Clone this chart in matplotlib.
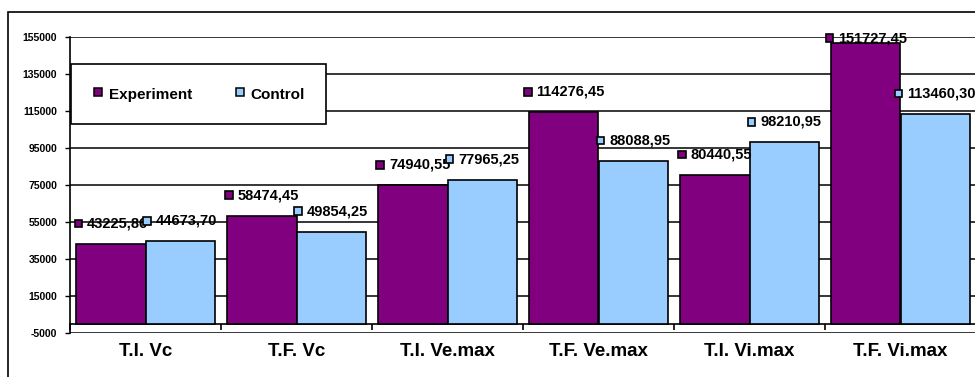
import matplotlib
matplotlib.use("Agg")
import matplotlib.pyplot as plt
import numpy as np
from matplotlib.lines import Line2D
from matplotlib.patches import Rectangle
from matplotlib.offsetbox import AnnotationBbox, HPacker, DrawingArea, TextArea
from matplotlib.ticker import FixedLocator

plt.rcParams['font.family'] = ['Liberation Sans', 'DejaVu Sans']
plt.rcParams['font.weight'] = 'bold'
plt.rcParams['axes.unicode_minus'] = False

categories = ['T.I. Vc', 'T.F. Vc', 'T.I. Ve.max', 'T.F. Ve.max', 'T.I. Vi.max', 'T.F. Vi.max']
experiment = [43225.86, 58474.45, 74940.55, 114276.45, 80440.55, 151727.45]
control = [44673.70, 49854.25, 77965.25, 88088.95, 98210.95, 113460.30]
series_names = ['Experiment', 'Control']
colors = ['#800080', '#99CCFF']

fig = plt.figure(figsize=(9.75, 3.77), dpi=100)
# chart frame (runs off the right and bottom edges)
fig.patches.append(Rectangle((8 / 975, -0.1), 1.1, 1 - 12 / 377 + 0.1, transform=fig.transFigure,
                             fill=False, edgecolor='black', linewidth=1.2))

ax = fig.add_axes([70 / 975, 44 / 377, 906 / 975, 296 / 377])
ax.set_xlim(-0.5, len(categories) - 0.5)
ax.set_ylim(-5000, 155000)

x = np.arange(len(categories))
w = 0.457
ax.bar(x - w / 2, experiment, w, color=colors[0], edgecolor='black', linewidth=1.2, zorder=3)
ax.bar(x + w / 2, control, w, color=colors[1], edgecolor='black', linewidth=1.2, zorder=3)

# y axis
ax.yaxis.set_major_locator(FixedLocator(np.arange(-5000, 155001, 20000)))
ax.yaxis.grid(True, color='black', linewidth=1.1, zorder=0)
ax.set_axisbelow(True)
ax.tick_params(axis='y', direction='out', length=3.6, width=1, pad=5.5, labelsize=7.5)
for t in ax.get_yticklabels():
    t.set_fontweight('bold')

# x axis sits at zero, with category ticks on group boundaries
ax.spines['bottom'].set_position(('data', 0))
ax.spines['bottom'].set_linewidth(1.2)
ax.spines['left'].set_linewidth(1.2)
ax.spines['top'].set_visible(False)
ax.spines['right'].set_visible(False)
ax.set_xticks(x)
ax.set_xticklabels(categories, fontsize=13.5, fontweight='bold')
ax.set_xticks(np.arange(-0.5, len(categories), 1.0), minor=True)
ax.tick_params(axis='x', which='major', length=0, pad=14)
ax.tick_params(axis='x', which='minor', direction='out', length=4.3, width=1.2)


def data_label(xpos, value, color):
    box = DrawingArea(6.5, 6.5)
    box.add_artist(Rectangle((0.5, 0.5), 5.5, 5.5, facecolor=color, edgecolor='black', linewidth=1.2))
    txt = TextArea('{:.2f}'.format(value).replace('.', ','),
                   textprops=dict(fontsize=10.5, fontweight='bold', color='black'))
    pack = HPacker(children=[box, txt], align='center', pad=0, sep=3)
    ypos = min(value + 11000, 154400)
    ab = AnnotationBbox(pack, (xpos, ypos), xycoords='data', frameon=False,
                        box_alignment=(0.5, 0.5), zorder=5)
    ax.add_artist(ab)


for i in range(len(categories)):
    data_label(x[i] - w / 2, experiment[i], colors[0])
    data_label(x[i] + w / 2, control[i], colors[1])

handles = [Line2D([], [], linestyle='none', marker='s', markersize=5.5, markerfacecolor=c,
                  markeredgecolor='black', markeredgewidth=1.1) for c in colors]
leg = ax.legend(handles, series_names, ncol=2, loc='upper left',
                bbox_to_anchor=(0.001, 0.9088), prop=dict(size=11, weight='bold'),
                fancybox=False, framealpha=1, edgecolor='black', borderpad=1.4,
                handlelength=0.8, handleheight=1.4, handletextpad=0.3,
                columnspacing=2.7, borderaxespad=0)
leg.get_frame().set_linewidth(1.2)
leg.set_zorder(6)

fig.savefig('out.png', dpi=100)
